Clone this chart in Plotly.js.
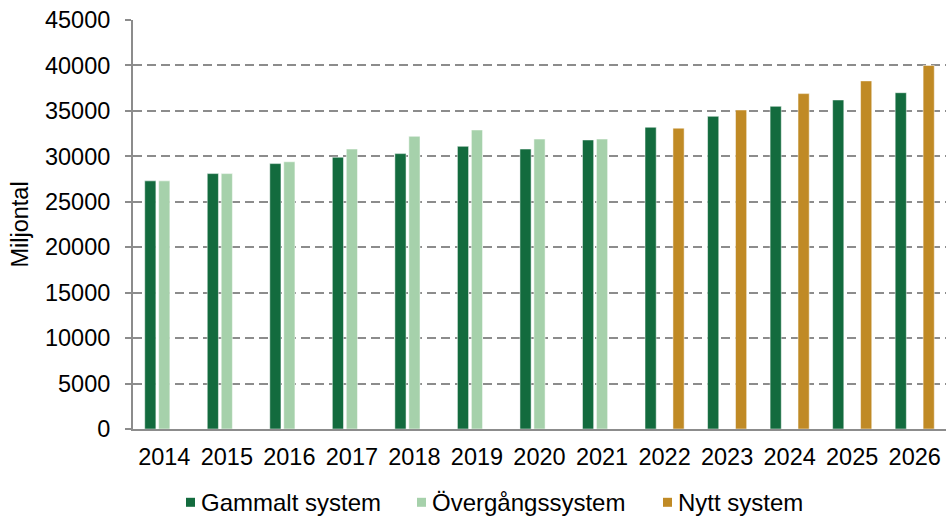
<!DOCTYPE html>
<html>
<head>
<meta charset="utf-8">
<script src="https://cdn.plot.ly/plotly-3.0.1.min.js"></script>
<style>html,body{margin:0;padding:0;background:#fff;}#chart{width:946px;height:516px;}</style>
</head>
<body>
<div id="chart"></div>
<script>
const years = ['2014','2015','2016','2017','2018','2019','2020','2021','2022','2023','2024','2025','2026'];
const gammalt = [27300, 28100, 29200, 29900, 30300, 31100, 30800, 31800, 33200, 34400, 35500, 36200, 37000];
const overgang = [27300, 28100, 29400, 30800, 32200, 32900, 31900, 31900, null, null, null, null, null];
const nytt = [null, null, null, null, null, null, null, null, 33100, 35100, 36900, 38300, 40000];
const seriesNames = ['Gammalt system', 'Övergångssystem', 'Nytt system'];
const seriesColors = ['#136B3E', '#A6D1AB', '#C08A25'];
const yTicks = [0,5000,10000,15000,20000,25000,30000,35000,40000,45000];

const W = 946, H = 516;
const M = {l: 133, r: 0, t: 20, b: 87};
const pw = W - M.l - M.r, ph = H - M.t - M.b;
const px2x = p => (p - M.l) / pw;
const py2y = p => (H - M.b - p) / ph;

const font = {family: 'Liberation Sans, Arial, sans-serif', size: 23.5, color: '#000'};
const legFont = {family: 'Liberation Sans, Arial, sans-serif', size: 24, color: '#000'};
const series = [gammalt, overgang, nytt];
const traces = series.map((s, i) => ({
  type: 'bar', name: seriesNames[i], x: years, y: s, showlegend: false,
  marker: {color: seriesColors[i], line: {color: '#ffffff', width: 0.5}}
}));

// custom legend (pixel positions of marker left edges)
const legMarkX = [186, 417, 663];
const legY = 502.3;
const shapes = [], annotations = [];
legMarkX.forEach((mx, i) => {
  shapes.push({type: 'rect', xref: 'paper', yref: 'paper',
    x0: px2x(mx), x1: px2x(mx + 9), y0: py2y(legY + 4.5), y1: py2y(legY - 4.5),
    fillcolor: seriesColors[i], line: {width: 0}});
  annotations.push({xref: 'paper', yref: 'paper', x: px2x(mx + 13), y: py2y(legY),
    xanchor: 'left', yanchor: 'middle', showarrow: false, text: seriesNames[i], font: legFont});
});

const layout = {
  width: W, height: H,
  margin: {l: M.l, r: M.r, t: M.t, b: M.b, autoexpand: false},
  paper_bgcolor: '#fff', plot_bgcolor: '#fff',
  font: font,
  barmode: 'group',
  bargap: 0.33,
  bargroupgap: 0.2,
  showlegend: false,
  shapes: shapes,
  annotations: annotations,
  xaxis: {
    type: 'category', showline: true, linecolor: '#8c8c8c', linewidth: 2,
    ticks: '', tickfont: font, showgrid: false, zeroline: false, ticklabelstandoff: 6
  },
  yaxis: {
    range: [0, 45000], tickvals: yTicks, ticktext: yTicks.map(String),
    showline: true, linecolor: '#8c8c8c', linewidth: 2,
    ticks: 'outside', ticklen: 6, tickwidth: 2, tickcolor: '#8c8c8c', tickfont: font,
    showgrid: true, gridcolor: '#8c8c8c', gridwidth: 2, griddash: '9px,5px',
    zeroline: false, ticklabelstandoff: 10,
    title: {text: 'Miljontal', font: font, standoff: 10}
  }
};
Plotly.newPlot('chart', traces, layout, {displayModeBar: false, staticPlot: true});
</script>
</body>
</html>
